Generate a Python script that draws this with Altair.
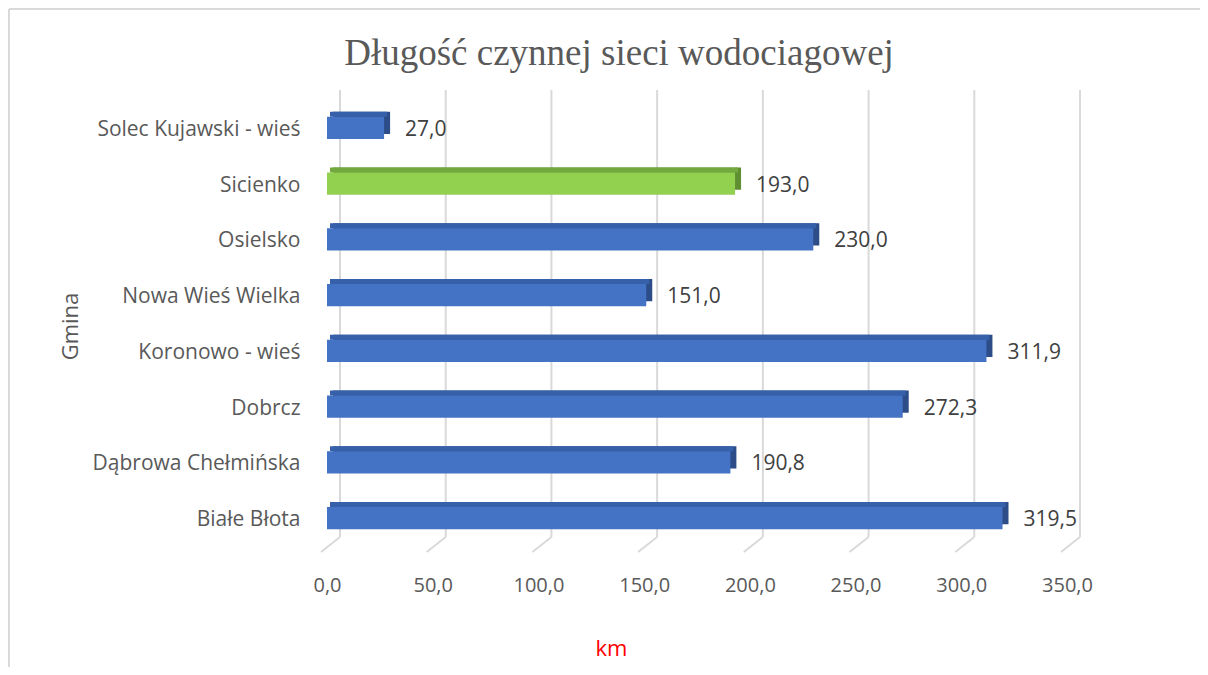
import altair as alt
import pandas as pd

# ---- data ----
gminy = ["Solec Kujawski - wieś", "Sicienko", "Osielsko", "Nowa Wieś Wielka",
         "Koronowo - wieś", "Dobrcz", "Dąbrowa Chełmińska", "Białe Błota"]
km = [27.0, 193.0, 230.0, 151.0, 311.9, 272.3, 190.8, 319.5]
highlight = ["Sicienko"]
x_ticks = [0, 50, 100, 150, 200, 250, 300, 350]
title_text = ["Długość czynnej sieci wodociagowej"]
y_title = "Gmina"
x_title = "km"

df = pd.DataFrame({"Gmina": gminy, "km": km})
df["label"] = [f"{v:.1f}".replace(".", ",") for v in km]
df["grupa"] = ["wyr" if g in highlight else "inne" for g in gminy]
ticks_df = pd.DataFrame({"t": x_ticks})
title_df = pd.DataFrame({"txt": title_text})

W, H = 740, 446
FONT = "Open Sans"
GREY = "#595959"

xs = alt.Scale(domain=[0, 350], nice=False, zero=True)
ys = alt.Scale(domain=gminy, paddingInner=0.6, paddingOuter=0.3)

def col(rng):
    return alt.Color("grupa:N", scale=alt.Scale(domain=["inne", "wyr"], range=rng), legend=None)

base = alt.Chart(df)

# gridlines (back wall) and their floor diagonals
grid = alt.Chart(ticks_df).mark_rule(color="#D9D9D9", strokeWidth=2, xOffset=13, x2Offset=13).encode(
    x=alt.X("t:Q", scale=xs), x2="t:Q", y=alt.value(-10), y2=alt.value(437))
diag = alt.Chart(ticks_df).mark_rule(color="#D9D9D9", strokeWidth=2, xOffset=13, x2Offset=-6).encode(
    x=alt.X("t:Q", scale=xs), x2="t:Q", y=alt.value(437), y2=alt.value(452))

# 3D bar faces
side = base.mark_bar(xOffset=6, x2Offset=6, yOffset=-5, y2Offset=-5).encode(
    x=alt.X("km:Q", scale=xs, stack=None), x2=alt.datum(0),
    y=alt.Y("Gmina:N", scale=ys), color=col(["#2C4D88", "#5F8F30"]))
top = base.mark_bar(size=5, xOffset=3, x2Offset=3, yOffset=-13.6, y2Offset=-13.6).encode(
    x=alt.X("km:Q", scale=xs, stack=None), x2=alt.datum(0),
    y=alt.Y("Gmina:N", scale=ys), color=col(["#3760AA", "#72A83E"]))
front = base.mark_bar().encode(
    x=alt.X("km:Q", scale=xs, stack=None,
            axis=alt.Axis(values=x_ticks, labelExpr="replace(format(datum.value, '.1f'), '.', ',')",
                          grid=False, domain=False, ticks=False, tickSize=0, labelFlush=False,
                          labelPadding=39, labelBaseline="middle", labelFontSize=20,
                          labelColor=GREY, labelFont=FONT,
                          title=x_title, titleColor="#FF0000", titleFont=FONT, titleFontSize=22,
                          titleFontWeight="normal", titleX=284, titleY=102,
                          titleBaseline="middle", titleAlign="center")),
    x2=alt.datum(0),
    y=alt.Y("Gmina:N", scale=ys,
            axis=alt.Axis(domain=False, ticks=False, tickSize=0, labelPadding=27,
                          labelFontSize=21, labelColor=GREY, labelFont=FONT, labelLimit=400,
                          labelOffset=2,
                          title=y_title, titleColor=GREY, titleFont=FONT, titleFontSize=22,
                          titleFontWeight="normal", titleX=-257, titleY=226, titleAngle=270,
                          titleBaseline="middle", titleAlign="center")),
    color=col(["#4472C4", "#92D050"]))

labels = base.mark_text(align="left", baseline="middle", dx=21, dy=2, fontSize=21,
                        font=FONT, color="#404040").encode(
    x=alt.X("km:Q", scale=xs), y=alt.Y("Gmina:N", scale=ys), text="label:N")

title = alt.Chart(title_df).mark_text(font="Liberation Serif", fontSize=37, color=GREY,
                                      align="center", baseline="alphabetic").encode(
    x=alt.value(292), y=alt.value(-35), text="txt:N")

border_top = alt.Chart(title_df).mark_rule(color="#D9D9D9", strokeWidth=2).encode(
    x=alt.value(-318), x2=alt.value(873), y=alt.value(-91), y2=alt.value(-91))
border_left = alt.Chart(title_df).mark_rule(color="#D9D9D9", strokeWidth=2).encode(
    x=alt.value(-318), x2=alt.value(-318), y=alt.value(-91), y2=alt.value(567))

chart = alt.layer(border_top, border_left, grid, diag, side, top, front, labels, title).resolve_scale(
    color="independent"
).properties(
    width=W, height=H,
    autosize=alt.AutoSizeParams(type="none"),
    padding={"left": 319, "top": 92, "right": 133, "bottom": 121},
    background="white",
).configure_view(stroke=None)

chart.save("out.html", embed_options={"renderer": "svg", "actions": False})
